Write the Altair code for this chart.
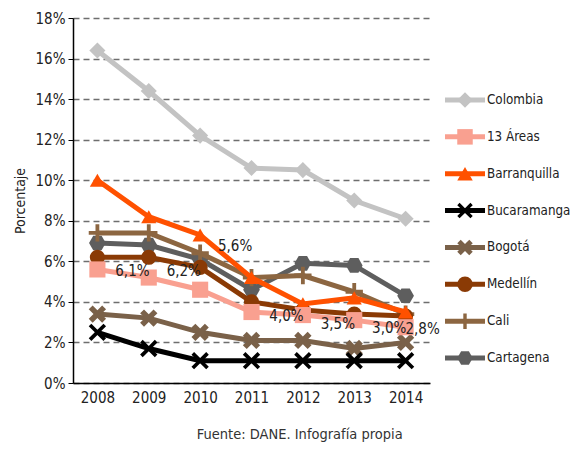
import altair as alt
import pandas as pd

years = ["2008", "2009", "2010", "2011", "2012", "2013", "2014"]
series = ["Colombia", "13 Áreas", "Barranquilla", "Bucaramanga", "Bogotá", "Medellín", "Cali", "Cartagena"]
colombia = [16.4, 14.4, 12.2, 10.6, 10.5, 9.0, 8.1]
areas13 = [5.6, 5.2, 4.6, 3.5, 3.35, 3.1, 2.75]
barranquilla = [10.0, 8.2, 7.3, 5.2, 3.9, 4.2, 3.5]
bucaramanga = [2.5, 1.7, 1.1, 1.1, 1.1, 1.1, 1.1]
bogota = [3.4, 3.2, 2.5, 2.1, 2.1, 1.7, 2.0]
medellin = [6.2, 6.2, 5.7, 4.0, 3.6, 3.4, 3.3]
cali = [7.4, 7.4, 6.4, 5.2, 5.3, 4.5, 3.4]
cartagena = [6.9, 6.8, 6.1, 4.6, 5.9, 5.8, 4.3]
label_text = ["6,1%", "6,2%", "5,6%", "4,0%", "3,5%", "3,0%", "2,8%"]

values = {
    "Colombia": colombia, "13 Áreas": areas13, "Barranquilla": barranquilla,
    "Bucaramanga": bucaramanga, "Bogotá": bogota, "Medellín": medellin,
    "Cali": cali, "Cartagena": cartagena,
}
colors = ["#c3c3c3", "#f9a090", "#ff5100", "#000000", "#7a6149", "#8a3a05", "#8c6641", "#5e5e5e"]

X_PATH = "M-1,-0.7L-0.7,-1L0,-0.3L0.7,-1L1,-0.7L0.3,0L1,0.7L0.7,1L0,0.3L-0.7,1L-1,0.7L-0.3,0Z"
BLOB_PATH = "M-1,-0.55L-0.55,-1L0,-0.45L0.55,-1L1,-0.55L0.45,0L1,0.55L0.55,1L0,0.45L-0.55,1L-1,0.55L-0.45,0Z"
PLUS_PATH = "M-0.22,-1H0.22V-0.22H1V0.22H0.22V1H-0.22V0.22H-1V-0.22H-0.22Z"
HEX_PATH = "M-1,0L-0.5,-0.87L0.5,-0.87L1,0L0.5,0.87L-0.5,0.87Z"
shapes = ["diamond", "square", "triangle-up", X_PATH, BLOB_PATH, "circle", PLUS_PATH, HEX_PATH]
sizes = [260, 260, 230, 300, 300, 230, 300, 280]

FONT = "'DejaVu Sans Condensed', 'Liberation Sans Narrow', Roboto, sans-serif"

rows = []
for s in series:
    for y, v in zip(years, values[s]):
        rows.append({"series": s, "year": y, "value": v})
df = pd.DataFrame(rows)

xscale = alt.Scale(type="point", padding=0.475)
yscale = alt.Scale(domain=[0, 18])
color_scale = alt.Scale(domain=series, range=colors)
shape_scale = alt.Scale(domain=series, range=shapes)

X = alt.X("year:O", scale=xscale, title=None,
          axis=alt.Axis(labelAngle=0, ticks=False, domainColor="#000", domainWidth=1.5,
                        labelFontSize=15, labelFont=FONT, labelColor="#222", labelPadding=7, grid=False))
Y = alt.Y("value:Q", scale=yscale, title="Porcentaje",
          axis=alt.Axis(values=list(range(0, 19, 2)), labelExpr="datum.value + '%'",
                        grid=True, gridDash=[6, 4], gridColor="#6e6e6e", gridWidth=1.3,
                        domainColor="#000", domainWidth=1.5, tickColor="#000", tickSize=5,
                        labelFontSize=15, labelFont=FONT, labelColor="#222", labelPadding=3,
                        titleFont=FONT, titleFontSize=14, titleFontWeight="normal",
                        titleColor="#222", titlePadding=8))

draw_order = ["Cartagena", "Cali", "Medellín", "Bogotá", "Bucaramanga", "Barranquilla", "13 Áreas", "Colombia"]

layers = []
base = alt.Chart(df)
first = True
for s in draw_order:
    i = series.index(s)
    sub = base.transform_filter(alt.datum.series == s)
    line = sub.mark_line(strokeWidth=5, color=colors[i]).encode(
        x=X if first else alt.X("year:O", scale=xscale),
        y=Y if first else alt.Y("value:Q", scale=yscale))
    pts = sub.mark_point(filled=True, opacity=1, color=colors[i], shape=shapes[i], size=sizes[i]).encode(
        x=alt.X("year:O", scale=xscale), y=alt.Y("value:Q", scale=yscale))
    layers += [line, pts]
    first = False

lab_df = pd.DataFrame({"year": years, "value": medellin, "label": label_text})
lab_base = alt.Chart(lab_df)
tx = dict(fontSize=15, font=FONT, color="#222", align="center", baseline="middle")
lab_main = lab_base.transform_filter("datum.year != '2010' && datum.year != '2014'").mark_text(dx=35, dy=14, **tx).encode(
    x=alt.X("year:O", scale=xscale), y=alt.Y("value:Q", scale=yscale), text="label:N")
lab_2010 = lab_base.transform_filter("datum.year == '2010'").mark_text(dx=35, dy=-21, **tx).encode(
    x=alt.X("year:O", scale=xscale), y=alt.Y("value:Q", scale=yscale), text="label:N")
lab_2014 = lab_base.transform_filter("datum.year == '2014'").mark_text(dx=17, dy=13, **tx).encode(
    x=alt.X("year:O", scale=xscale), y=alt.Y("value:Q", scale=yscale), text="label:N")
layers += [lab_main, lab_2010, lab_2014]

main = alt.layer(*layers).properties(width=357, height=365)

leg_df = pd.DataFrame({"series": series, "idx": list(range(len(series)))})
leg_y = alt.Y("idx:Q", scale=alt.Scale(domain=[0, 7], range=[82, 340]), axis=None)
leg_base = alt.Chart(leg_df)
leg_rule = leg_base.mark_rule(strokeWidth=5).encode(
    x=alt.value(15), x2=alt.value(55), y=leg_y,
    color=alt.Color("series:N", scale=color_scale, legend=None))
leg_pts = leg_base.mark_point(filled=True, opacity=1, size=240).encode(
    x=alt.value(35), y=leg_y,
    color=alt.Color("series:N", scale=color_scale, legend=None),
    shape=alt.Shape("series:N", scale=shape_scale, legend=None))
leg_txt = leg_base.mark_text(align="left", baseline="middle", fontSize=13.3, font=FONT, color="#222", dx=0).encode(
    x=alt.value(57), y=leg_y, text="series:N")
legend = alt.layer(leg_rule, leg_pts, leg_txt).properties(width=125, height=365)

chart = alt.hconcat(main, legend, spacing=0, bounds="flush").properties(
    padding={"left": 5, "top": 3, "right": 0, "bottom": 0},
    title=alt.TitleParams("Fuente: DANE. Infografía propia", orient="bottom", anchor="middle",
                          font=FONT, fontSize=14.5, fontWeight="normal", color="#333", offset=23, dx=8)
).configure_view(stroke=None).resolve_scale(color="independent", shape="independent")

chart.save("out.html", embed_options={"renderer": "svg", "actions": False})
